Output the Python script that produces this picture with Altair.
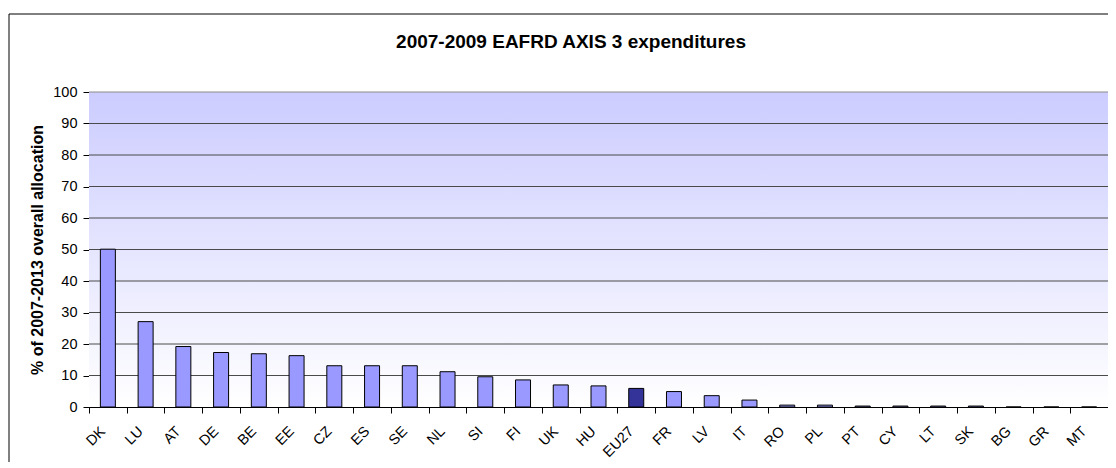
import altair as alt
import pandas as pd

countries = ["DK", "LU", "AT", "DE", "BE", "EE", "CZ", "ES", "SE", "NL", "SI", "FI", "UK", "HU",
             "EU27", "FR", "LV", "IT", "RO", "PL", "PT", "CY", "LT", "SK", "BG", "GR", "MT"]
values = [50.1, 27.1, 19.2, 17.3, 16.9, 16.3, 13.1, 13.1, 13.1, 11.2, 9.6, 8.6, 7.0, 6.7,
          5.9, 4.9, 3.6, 2.2, 0.6, 0.6, 0.3, 0.3, 0.3, 0.3, 0.0, 0.0, 0.0]
groups = ["EU27" if c == "EU27" else "Member state" for c in countries]
y_ticks = [0, 10, 20, 30, 40, 50, 60, 70, 80, 90, 100]
grid_ticks = [10, 20, 30, 40, 50, 60, 70, 80, 90, 100]
chart_title = "2007-2009 EAFRD AXIS 3 expenditures"
y_title = "% of 2007-2013 overall allocation"

df = pd.DataFrame({"country": countries, "value": values, "group": groups})
grid_df = pd.DataFrame({"tick": grid_ticks})
frame_df = pd.DataFrame({"k": [0]})

W, H = 1019, 315
FONT = "Liberation Sans"

ysc = alt.Scale(domain=[0, 100], nice=False)
y_axis = alt.Axis(title=y_title, values=y_ticks,
                  titleFontSize=16, titleFont=FONT, titleFontWeight="bold",
                  titleColor="black", titlePadding=7,
                  labelFontSize=14.5, labelFont=FONT, labelColor="black",
                  labelPadding=6, tickSize=6, tickColor="black",
                  domainColor="black", grid=False)

background = alt.Chart(frame_df).mark_rect(
    fill=alt.LinearGradient(gradient="linear", x1=0, y1=0, x2=0, y2=1,
                            stops=[alt.GradientStop(offset=0, color="#CCCCFF"),
                                   alt.GradientStop(offset=1, color="#FFFFFF")])
).encode(x=alt.value(0), x2=alt.value(W), y=alt.value(0), y2=alt.value(H))

grid = alt.Chart(grid_df).mark_rule(strokeWidth=1).encode(
    y=alt.Y("tick:Q", scale=ysc, axis=y_axis),
    x=alt.value(0), x2=alt.value(W),
    color=alt.condition("datum.tick == 100", alt.value("#8a8a8a"), alt.value("#4a4a4a")),
)

bars = alt.Chart(df).mark_bar(size=15, stroke="black", strokeWidth=1).encode(
    x=alt.X("country:N", sort=countries,
            scale=alt.Scale(paddingInner=0, paddingOuter=0),
            axis=alt.Axis(title=None, labelAngle=-45, labelFontSize=14.5, labelFont=FONT,
                          labelColor="black", domainColor="black", tickColor="black",
                          tickSize=6, tickBand="extent", labelPadding=11,
                          labelOffset=-10, grid=False)),
    y=alt.Y("value:Q", scale=ysc, axis=y_axis),
    color=alt.Color("group:N", scale=alt.Scale(domain=["Member state", "EU27"],
                                               range=["#9999FF", "#333399"]), legend=None),
)

title_text = alt.Chart(frame_df).mark_text(
    text=chart_title, font=FONT, fontSize=19, fontWeight="bold", color="black",
    align="center", baseline="alphabetic"
).encode(x=alt.value(482), y=alt.value(-44))

left_edge = alt.Chart(frame_df).mark_rule(color="black", strokeWidth=1).encode(
    x=alt.value(-80), y=alt.value(-78), y2=alt.value(H + 80))
top_edge = alt.Chart(frame_df).mark_rule(color="black", strokeWidth=1).encode(
    x=alt.value(-80), x2=alt.value(W + 40), y=alt.value(-78))

chart = alt.layer(background, grid, bars, title_text, left_edge, top_edge).properties(
    width=W, height=H,
    autosize=alt.AutoSizeParams(type="none"),
    padding={"left": 81, "top": 84, "right": 0, "bottom": 55},
).configure_view(strokeWidth=0)

chart.save("out.html", embed_options={"renderer": "svg", "actions": False})
